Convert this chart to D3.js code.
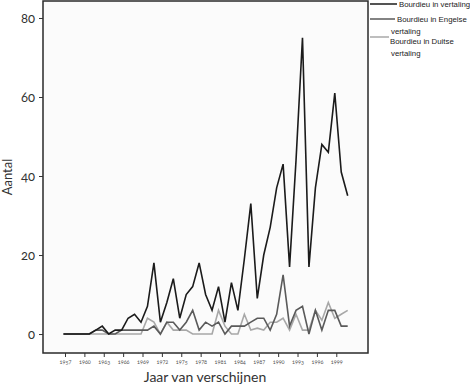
<!DOCTYPE html>
<html>
<head>
<meta charset="utf-8">
<script src="https://cdn.jsdelivr.net/npm/d3@7"></script>
<style>
    body { margin: 0; background: #fff; }
    text { font-family: Lato, "Open Sans", sans-serif; font-variant-numeric: oldstyle-nums; }
    .legend-text { font-family: "Liberation Sans", Arial, sans-serif; }
</style>
</head>
<body>
<svg id="chart" width="470" height="386"></svg>
<script>
// years 1957 - 2001
let years = d3.range(1957, 2002);

let vertaling = [0, 0, 0, 0, 0, 1, 2, 0, 1, 1, 4, 5, 3, 7, 18, 3, 8, 14, 4, 10, 12, 18, 10, 6, 12,
                 3, 13, 6, 19, 33, 9, 20, 27, 37, 43, 17, 44, 75, 17, 37, 48, 46, 61, 41, 35];
let engels = [0, 0, 0, 0, 0, 1, 1, 0, 0, 1, 1, 1, 1, 1, 2, 0, 3, 3, 1, 3, 6, 1, 3, 2, 3,
              0, 2, 2, 2, 3, 4, 4, 1, 5, 15, 2, 6, 7, 0, 6, 1, 6, 6, 2, 2];
let duits = [0, 0, 0, 0, 0, 0, 0, 0, 0, 0, 0, 0, 0, 4, 3, 0, 3, 1, 1, 1, 0, 0, 0, 0, 6,
             2, 0, 0, 5, 1, 1.5, 1, 3, 3, 4, 1, 5, 1, 1, 6, 3.5, 8, 4, 5, 6];

let seriesColors = ['#1b1b1b', '#5a5a5a', '#a8a8a8'];
let xTicks = d3.range(1957, 2000, 3);
let yTicks = [0, 20, 40, 60, 80];

let svg = d3.select('#chart');

let plotLeft = 43, plotRight = 368, plotTop = 1, plotBottom = 353;

let xScale = d3.scaleLinear()
                .domain([1957, 2001])
                .range([63.5, 347.7]);

let yScale = d3.scaleLinear()
                .domain([-4.8, 84.3])
                .range([plotBottom, plotTop]);

svg.append('rect')
    .attr('x', plotLeft)
    .attr('y', plotTop)
    .attr('width', plotRight - plotLeft)
    .attr('height', plotBottom - plotTop)
    .attr('fill', '#fbfbfb')
    .attr('stroke', '#2a2a2a')
    .attr('stroke-width', 1.5);

// y axis
let yAxis = svg.append('g')
                .attr('transform', 'translate(' + plotLeft + ',0)')
                .call(d3.axisLeft(yScale).tickValues(yTicks).tickSize(4).tickPadding(4));
yAxis.select('.domain').remove();
yAxis.selectAll('line').attr('stroke', '#333');
yAxis.selectAll('text')
        .style('font-size', '13px')
        .attr('fill', '#333');

// x axis
let xAxis = svg.append('g')
                .attr('transform', 'translate(1.5,' + plotBottom + ')')
                .call(d3.axisBottom(xScale).tickValues(xTicks).tickFormat(d3.format('d')).tickSize(4).tickPadding(3));
xAxis.select('.domain').remove();
xAxis.selectAll('line').attr('stroke', '#333');
xAxis.selectAll('text')
        .style('font-size', '5.5px')
        .attr('fill', '#555');

svg.append('text')
    .attr('x', 205)
    .attr('y', 382)
    .attr('text-anchor', 'middle')
    .style('font-size', '14px')
    .attr('fill', '#333')
    .text('Jaar van verschijnen');

svg.append('text')
    .attr('transform', 'translate(12,177) rotate(-90)')
    .attr('text-anchor', 'middle')
    .style('font-size', '13px')
    .attr('fill', '#333')
    .text('Aantal');

// lines
let line = d3.line()
            .x((d, i) => xScale(years[i]))
            .y(d => yScale(d));

[duits, engels, vertaling].forEach((data, i) => {
    svg.append('path')
        .datum(data)
        .attr('d', line)
        .attr('fill', 'none')
        .attr('stroke', seriesColors[2 - i])
        .attr('stroke-width', 1.6)
        .attr('stroke-linejoin', 'miter');
});

// legend (outside the frame, on the right)
let legendRows = [
    { lineY: 4, lineEnd: 397, textX: 399, texts: [[399, 7, 'Bourdieu in vertaling']] },
    { lineY: 19, lineEnd: 395, textX: 397, texts: [[397, 22, 'Bourdieu in Engelse'], [391, 34, 'vertaling']] },
    { lineY: 37, lineEnd: 389, textX: 390, texts: [[390, 44, 'Bourdieu in Duitse'], [391, 56, 'vertaling']] }
];

legendRows.forEach((row, i) => {
    svg.append('line')
        .attr('x1', 370)
        .attr('x2', row.lineEnd)
        .attr('y1', row.lineY)
        .attr('y2', row.lineY)
        .attr('stroke', seriesColors[i])
        .attr('stroke-width', 1.5);
    row.texts.forEach(t => {
        svg.append('text')
            .classed('legend-text', true)
            .attr('x', t[0])
            .attr('y', t[1])
            .style('font-size', '7.8px')
            .attr('fill', '#222')
            .text(t[2]);
    });
});
</script>
</body>
</html>
